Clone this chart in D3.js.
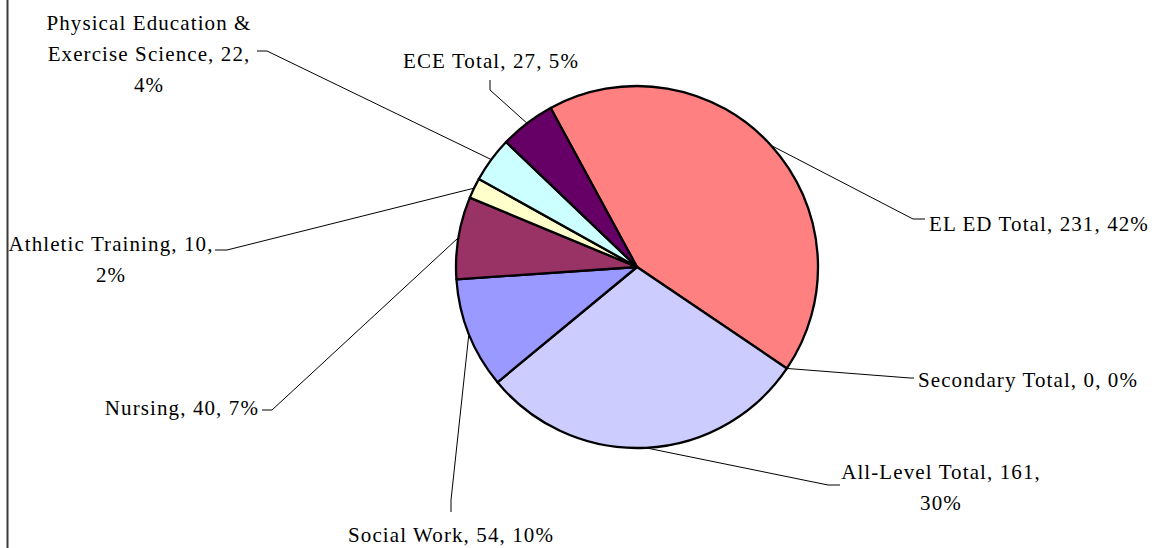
<!DOCTYPE html>
<html>
<head>
<meta charset="utf-8">
<script src="https://cdn.jsdelivr.net/npm/d3@7"></script>
<style>
  html, body { margin: 0; padding: 0; background: #fff; }
  svg { display: block; }
  .lbl { font-family: "Liberation Serif", "Times New Roman", serif; font-size: 21px; letter-spacing: 1.1px; fill: #000; }
</style>
</head>
<body>
<svg id="chart" width="1157" height="548"></svg>
<script>
// data
const categories = ["EL ED Total", "Secondary Total", "All-Level Total", "Social Work",
                    "Nursing", "Athletic Training", "Physical Education & Exercise Science", "ECE Total"];
const values = [231, 0, 161, 54, 40, 10, 22, 27];
const sliceColors = ["#FF8080", "#FF8080", "#CCCCFF", "#9999FF", "#993366", "#FFFFCC", "#CCFFFF", "#660066"];

// label layout: where the text sits, how words wrap, and the leader elbow
const labelLayout = [
  { x: 929, y: 231, anchor: "start",  wrap: null,    elbow: [913, 219], end: [925, 219] },
  { x: 918, y: 387, anchor: "start",  wrap: null,    elbow: [910, 378], end: [914, 378] },
  { x: 941, y: 479, anchor: "middle", wrap: [3, 1],  elbow: [828, 485], end: [840, 485] },
  { x: 451, y: 542, anchor: "middle", wrap: null,    elbow: [451, 500], end: [451, 512] },
  { x: 259, y: 415, anchor: "end",    wrap: null,    elbow: [272, 410], end: [262, 410] },
  { x: 111, y: 251, anchor: "middle", wrap: [3, 1],  elbow: [227, 250], end: [215, 250] },
  { x: 149, y: 30,  anchor: "middle", wrap: [3, 3, 1], elbow: [267, 51], end: [257, 51] },
  { x: 491, y: 68,  anchor: "middle", wrap: null,    elbow: [490, 90], end: [490, 80] }
];

const svg = d3.select("#chart");
const cx = 637, cy = 267, r = 181;
const lineGap = 31;
const total = d3.sum(values);

// frame edge on the left
svg.append("line")
  .attr("x1", 7.5).attr("x2", 7.5).attr("y1", 0).attr("y2", 548)
  .attr("stroke", "#3a3a3a").attr("stroke-width", 2);

const startA = -28.5 * Math.PI / 180;
const pie = d3.pie().sort(null).startAngle(startA).endAngle(startA + 2 * Math.PI);
const arcs = pie(values);

const arc = d3.arc().innerRadius(0).outerRadius(r);
const rim = d3.arc().innerRadius(r).outerRadius(r);

const g = svg.append("g").attr("transform", `translate(${cx},${cy})`);

g.selectAll("path.slice")
  .data(arcs.filter(d => d.value > 0))
  .join("path")
    .attr("class", "slice")
    .attr("d", arc)
    .attr("fill", d => sliceColors[d.index])
    .attr("stroke", "#000")
    .attr("stroke-width", 2.3)
    .attr("stroke-linejoin", "round");

// leader lines
arcs.forEach((d, i) => {
  const L = labelLayout[i];
  const p = rim.centroid(d);
  const pts = [[cx + p[0], cy + p[1]], L.elbow, L.end];
  svg.append("path")
    .attr("d", d3.line()(pts))
    .attr("fill", "none")
    .attr("stroke", "#000")
    .attr("stroke-width", 1);
});

// labels
arcs.forEach((d, i) => {
  const L = labelLayout[i];
  const pct = Math.round(d.value / total * 100);
  const full = `${categories[i]}, ${d.value}, ${pct}%`;
  let lines = [full];
  if (L.wrap) {
    const words = full.split(" ");
    lines = [];
    let k = 0;
    L.wrap.forEach(n => { lines.push(words.slice(k, k + n).join(" ")); k += n; });
  }
  const t = svg.append("text")
    .attr("class", "lbl")
    .attr("text-anchor", L.anchor);
  lines.forEach((s, j) => {
    t.append("tspan").attr("x", L.x).attr("y", L.y + j * lineGap).text(s);
  });
});
</script>
</body>
</html>
